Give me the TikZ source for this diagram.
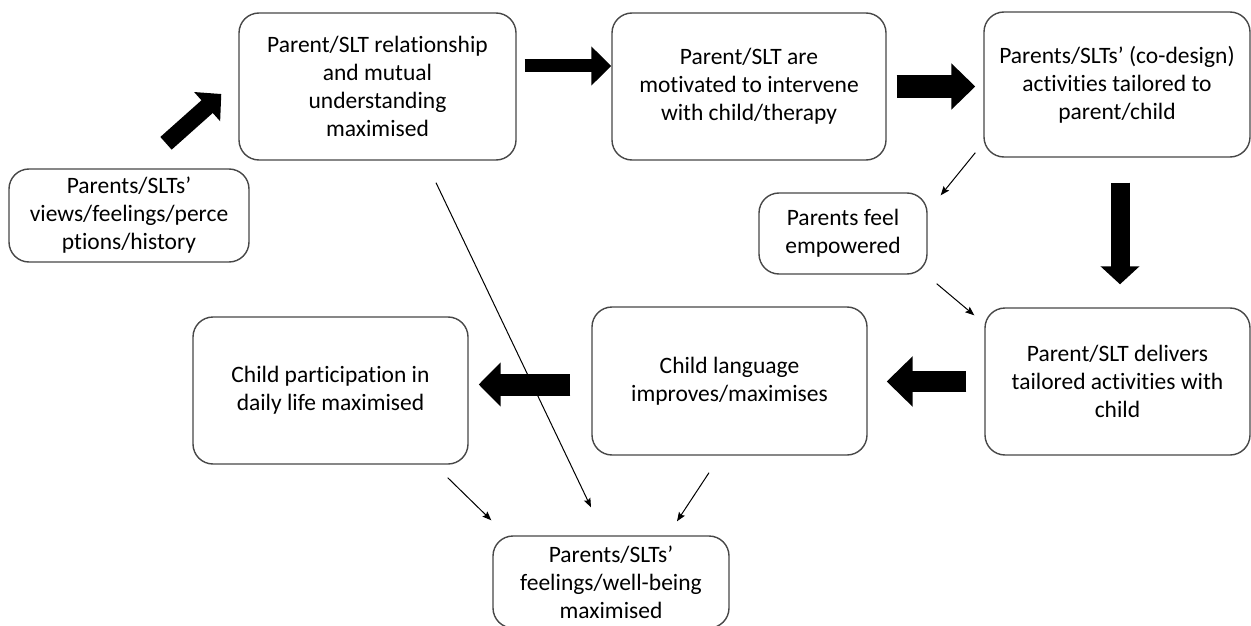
\documentclass[tikz,border=0pt]{standalone}
\usepackage{fontspec}
\setmainfont{Carlito}
\usetikzlibrary{arrows.meta,calc}
% keeps "t" and "i" apart (no ti ligature)
\newcommand\tisep{\kern0pt}

\begin{document}
\begin{tikzpicture}[x=1pt,y=-1pt,
  box/.style={draw=black!72,line width=1.4pt,rounded corners=20pt,align=center,
    inner sep=0pt,font=\fontsize{23.5}{28}\selectfont},
  block/.style args={#1/#2/#3}{line width=#1pt,-{Triangle[width=#2pt,length=#3pt]}},
  thin/.style={line width=1pt,-{Stealth[length=9pt,width=7pt,inset=1.5pt]}}]
  \useasboundingbox (0,0) rectangle (1251,626);
  \path
  node[box,minimum width=240pt,minimum height=93pt] (views) at (129,215.5)
    {Parents/SLTs’\\views/feelings/perce\\pt\tisep ions/history}
  node[box,minimum width=277pt,minimum height=147pt] (rapport) at (377.5,86.5)
    {Parent/SLT relat\tisep ionship\\and mutual\\understanding\\maximised}
  node[box,minimum width=274pt,minimum height=147pt] (motivated) at (749,86.5)
    {Parent/SLT are\\mot\tisep ivated to intervene\\with child/therapy}
  node[box,minimum width=266pt,minimum height=145pt] (codesign) at (1117,84.5)
    {Parents/SLTs’ (co-design)\\act\tisep ivit\tisep ies tailored to\\parent/child}
  node[box,minimum width=168pt,minimum height=81pt] (empowered) at (843,233.5)
    {Parents feel\\empowered}
  node[box,minimum width=265pt,minimum height=147pt] (delivers) at (1117.5,381.5)
    {Parent/SLT delivers\\tailored act\tisep ivit\tisep ies with\\child}
  node[box,minimum width=275pt,minimum height=148pt] (language) at (729.5,381)
    {Child language\\improves/maximises}
  node[box,minimum width=275pt,minimum height=147pt] (participation) at (330.5,390.5)
    {Child part\tisep icipat\tisep ion in\\daily life maximised}
  node[box,minimum width=236pt,minimum height=92pt] (wellbeing) at (611,582)
    {Parents/SLTs’\\feelings/well-being\\maximised}
  ;
  % main chain
  \draw[block=17/38/19] ($(views.north)+(37,-25)$) -- ($(rapport.west)+(-17,7.5)$);
  \draw[block=13/38/20,shorten <=8pt] ([yshift=20.5pt]rapport.east) -- ([yshift=20.5pt]motivated.west);
  \draw[block=23/45/24,shorten <=10pt] (motivated.east) -- ($(motivated.east -| codesign.west)+(-8,0)$);
  \draw[block=19/38/18,shorten <=25pt] ([xshift=3pt]codesign.south) -- ($([xshift=3pt]codesign.south |- delivers.north)+(0,-23)$);
  \draw[block=21/49/26,shorten <=18pt] (delivers.west) -- ($(delivers.west -| language.east)+(19,0)$);
  \draw[block=22/43/22,shorten <=21pt] ([yshift=-3.5pt]language.west) -- ($(language.west -| participation.east)+(10,3.5)$);
  % side effects
  \draw[thin] ($(codesign.south west)+(-8,-5)$) -- ($(empowered.north east)+(13,3)$);
  \draw[thin] ($(empowered.south east)+(9,9)$) -- ($(delivers.north west)+(-10,8)$);
  \draw[thin] ($(rapport.south)+(58.5,22)$) -- ($(wellbeing.north)+(-20,-28)$);
  \draw[thin] ($(participation.south east)+(-21,13)$) -- ($(wellbeing.north west)+(-1,-15)$);
  \draw[thin] ($(language.south)+(-20.5,17)$) -- ($(wellbeing.north)+(66,-14)$);
\end{tikzpicture}
\end{document}
